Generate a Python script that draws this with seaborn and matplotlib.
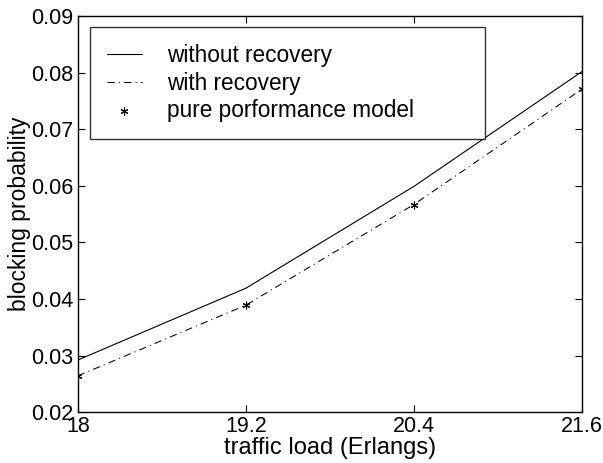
import pandas as pd
import seaborn as sns
import matplotlib.pyplot as plt

# traffic load (Erlangs)
load = [18, 19.2, 20.4, 21.6]
without_recovery = [0.0292, 0.0419, 0.0599, 0.0802]
with_recovery = [0.0264, 0.0389, 0.0567, 0.0771]
pure_model = [0.0264, 0.0389, 0.0567, 0.0771]

df = pd.DataFrame({'load': load, 'without': without_recovery,
                   'with': with_recovery, 'pure': pure_model})

sns.set_style('ticks')
plt.rcParams['font.family'] = ['Liberation Sans', 'DejaVu Sans']
plt.rcParams.update({'text.color': 'black', 'axes.labelcolor': 'black',
                     'xtick.color': 'black', 'ytick.color': 'black'})

fig = plt.figure(figsize=(6.03, 4.63), dpi=100)
ax = fig.add_axes([0.129, 0.110, 0.836, 0.855])

sns.lineplot(data=df, x='load', y='without', ax=ax, color='black', lw=0.8,
             label='without recovery')
sns.lineplot(data=df, x='load', y='with', ax=ax, color='black', lw=0.75,
             label='with recovery', dashes=False, linestyle=(0, (7, 4, 1, 4)))
sns.scatterplot(data=df, x='load', y='pure', ax=ax, color='black', marker=(6, 2, 0),
                s=25, linewidth=0.8, edgecolor='black', label='pure porformance model', zorder=5)

ax.set_xlim(18, 21.6)
ax.set_ylim(0.02, 0.09)
ax.set_xticks(load)
ax.set_xticklabels(['18', '19.2', '20.4', '21.6'])
ax.set_yticks([0.02, 0.03, 0.04, 0.05, 0.06, 0.07, 0.08, 0.09])
ax.set_yticklabels(['0.02', '0.03', '0.04', '0.05', '0.06', '0.07', '0.08', '0.09'])
ax.tick_params(direction='in', top=True, right=True, labelsize=15.5, length=5, width=0.8, pad=3)
for s in ax.spines.values():
    s.set_linewidth(1.0)
    s.set_color('black')

ax.set_xlabel('traffic load (Erlangs)', fontsize=17, labelpad=0)
ax.set_ylabel('blocking probability', fontsize=16.5, labelpad=0)

leg = ax.legend(loc='upper left', bbox_to_anchor=(0.024, 0.692, 0.784, 0.280),
                mode='expand', fontsize=16.3, frameon=True, fancybox=False,
                edgecolor='black', handlelength=1.55, borderaxespad=0,
                labelspacing=0.2, handletextpad=1.1, borderpad=0.75)
leg.get_frame().set_linewidth(1.0)

fig.savefig('out.png', dpi=100)
